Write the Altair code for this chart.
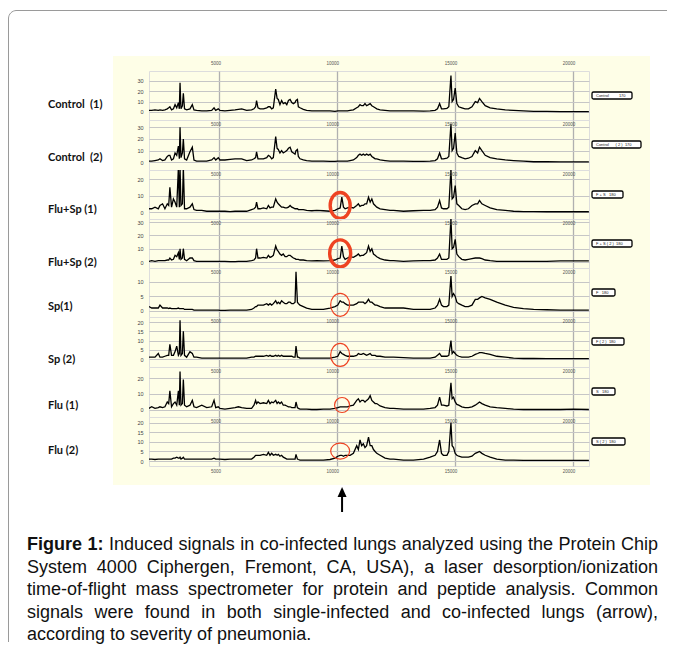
import altair as alt
import pandas as pd

# ---------------- data ----------------
MZ = [2030, 2150, 2290, 2430, 2500, 2610, 2710, 2810, 2870, 2920,
      2990, 3070, 3140, 3210, 3280, 3320, 3350, 3390, 3450, 3490,
      3540, 3630, 3770, 3870, 3940, 4050, 4270, 4480, 4690, 4790,
      4860, 4970, 5040, 5250, 5470, 5680, 5820, 5960, 6170, 6380,
      6480, 6550, 6590, 6650, 6740, 6880, 7020, 7090, 7160, 7230,
      7300, 7400, 7460, 7510, 7580, 7650, 7720, 7800, 7870, 7940,
      8010, 8080, 8150, 8220, 8260, 8320, 8360, 8430, 8570, 8710,
      8930, 9140, 9420, 9700, 9910, 10030, 10130, 10200, 10270, 10340,
      10440, 10550, 10690, 10830, 10900, 10970, 11040, 11110, 11180, 11250,
      11330, 11400, 11470, 11540, 11610, 11680, 11820, 12030, 12240, 12390,
      12810, 13230, 13660, 13940, 14150, 14250, 14340, 14420, 14500, 14650,
      14730, 14820, 14870, 14930, 15000, 15070, 15150, 15280, 15420, 15560,
      15710, 15850, 15950, 16030, 16130, 16270, 16480, 16760, 17120, 17470,
      17890, 18320, 18880, 19450, 20010, 20660]

CONTROL_1 = [1.5, 1.5, 2, 1.5, 2, 1.5, 2, 3, 4, 5,
             2, 3, 7, 4, 9, 3, 28, 3, 6, 18,
             3, 2, 3, 7, 2, 1.5, 1, 1, 1.5, 4,
             1.5, 3, 1.5, 1, 1.5, 2, 2.5, 3, 1.5, 2,
             3, 5, 11, 4, 3, 3, 4, 5, 5, 3,
             4, 22, 13, 12, 7, 11, 8, 9, 7, 11,
             12, 9, 8, 9, 11, 12, 5, 4, 2.5, 1.5,
             1, 1, 1, 1, 0.5, 1, 1, 1, 1, 1,
             1, 1.5, 2, 4, 5, 7, 6, 6, 8, 6,
             7, 8, 6, 5, 4, 3, 2, 1.5, 1, 1,
             1, 1, 0.8, 1, 1.5, 3, 8, 3, 3, 3.5,
             5, 35, 10, 12, 23, 8, 5, 4, 3, 3,
             5, 10, 9, 13, 10, 6, 4, 3, 2, 1.5,
             1, 0.5, 0.5, 0.3, 0.3, 0.3]

CONTROL_2 = [1, 1, 1.5, 2, 3, 1.5, 2, 5, 6, 6,
             2, 3, 8, 6, 14, 3, 30, 4, 8, 20,
             3, 2, 9, 13, 2, 1, 1, 1, 2, 4,
             2, 4, 2, 2, 2.5, 3, 3, 3, 1.5, 2,
             3, 4, 9, 3, 3, 3, 4, 6, 5, 3,
             4, 22, 12, 11, 8, 10, 8, 9, 10, 12,
             13, 9, 8, 7, 10, 11, 5, 3, 2, 1.5,
             1, 1, 1, 0.8, 0.8, 1, 1, 1, 1, 1,
             1, 1.5, 2, 4, 6, 7, 6, 7, 6, 7,
             6, 7, 5, 4, 3, 3, 2, 1.5, 1, 1,
             1, 0.8, 0.8, 1, 1.5, 3, 8, 3, 3, 3.5,
             5, 33, 10, 12, 25, 8, 5, 4, 3, 3.5,
             5, 10, 8, 13, 10, 6, 4, 3, 2, 1.5,
             1, 0.5, 0.5, 0.3, 0.3, 0.3]

FLUSP_1 = [2, 2, 3, 2, 4, 5, 2, 5, 4, 15,
           3, 8, 6, 3, 27, 3, 27, 4, 5, 27,
           2, 2, 3, 5, 1.5, 1, 1, 0.5, 0.5, 0.5,
           0.5, 0.5, 0.5, 0.5, 0.3, 0.5, 0.5, 0.5, 0.5, 1.5,
           2, 3, 6, 2, 2, 2.5, 2, 4, 2.5, 3,
           3, 8, 6, 5, 4, 3, 3, 2.5, 2.5, 3,
           4, 3, 2.5, 2, 2, 2, 1.5, 1.5, 1.5, 1,
           0.8, 1, 0.8, 0.5, 1, 2, 2.5, 9, 3, 2,
           2.5, 3, 2.5, 4, 5, 3.5, 4, 4, 5, 5,
           9, 6, 8, 5, 4, 3, 2, 1.5, 1, 1,
           0.5, 0.8, 1, 1, 1.5, 3, 7, 2.5, 2, 2,
           3, 26, 8, 9, 16, 5, 4, 2, 1.5, 2,
           4, 5, 5, 7, 5, 4, 2.5, 1.5, 1, 0.5,
           0.3, 0.3, 0.2, 0.2, 0.2, 0.2]

FLUSP_2 = [0.5, 1, 0.5, 1, 1, 1, 1, 1.5, 1.5, 3,
           1.5, 2, 5, 4, 7, 2, 10, 2, 3, 10,
           2, 1, 3, 3, 1, 0.5, 0.5, 0.5, 0.5, 0.5,
           0.5, 0.5, 0.5, 0.5, 0.3, 0.3, 0.5, 0.5, 0.5, 1,
           1.5, 3, 10, 3, 3, 3.5, 3, 5, 3.5, 4,
           5, 12, 9, 8, 6, 5, 6, 4, 4, 5,
           5, 4, 3, 2.5, 2, 2, 2, 1.5, 1.5, 1,
           0.8, 1, 0.8, 1, 1.5, 2.5, 3, 12, 4, 2,
           3, 4, 3.5, 5, 6, 4.5, 5, 5, 6, 7,
           12, 8, 10, 6, 5, 4, 2.5, 1.5, 1, 1,
           0.5, 0.8, 1, 1, 1.5, 3, 6, 2, 2, 2,
           3, 33, 10, 11, 17, 6, 4, 2, 1.5, 2,
           2.5, 3, 3, 3, 2.5, 1.5, 1, 0.5, 0.5, 0.5,
           0.5, 0.5, 0.5, 0.8, 0.8, 0.8]

SP_1 = [1.5, 1, 1, 1, 2, 1, 1, 1, 0.8, 1,
        0.8, 0.8, 0.8, 0.8, 1, 0.8, 0.8, 0.8, 0.8, 0.8,
        0.5, 0.5, 0.5, 0.5, 0.3, 0.3, 0.3, 0.3, 0.3, 0.3,
        0.3, 0.3, 0.2, 0.2, 0.3, 0.3, 0.3, 0.3, 0.3, 0.5,
        1, 1.5, 1.5, 2, 2, 2, 2.5, 2, 2.5, 2,
        2.5, 3.5, 2.5, 3, 2.5, 3.5, 3, 2.5, 2.5, 3,
        3, 2.5, 2.5, 3, 13.5, 3, 2.5, 2, 1.5, 1,
        0.5, 0.5, 0.5, 1, 1.5, 2, 3.5, 3, 3, 2.5,
        2, 2, 2, 2.5, 3, 3, 3, 3, 2.5, 3,
        4, 3, 3, 2.5, 2, 2, 1.5, 1, 1, 1,
        1, 0.5, 0.5, 0.5, 1, 2, 4, 2, 1.5, 1.5,
        2, 12, 5, 6, 5, 3, 2.5, 2, 1.5, 1.5,
        2, 4, 4, 4.5, 5, 4.5, 4, 3, 2, 1.2,
        0.8, 0.5, 0.4, 0.3, 0.3, 0.3]

SP_2 = [1, 1, 1, 3, 1, 1, 1.5, 2, 2, 8,
        2, 2, 4, 7, 2, 3, 21, 2, 3, 15,
        2, 1, 4, 3, 1, 1, 0.5, 0.5, 0.5, 0.5,
        0.5, 0.5, 0.5, 0.5, 0.5, 0.5, 0.5, 0.5, 0.5, 1,
        1, 1.5, 1.5, 1.5, 1.5, 1.5, 2, 1.5, 2, 1.5,
        1.5, 2, 1.5, 2, 1.5, 2, 1.5, 1.5, 1.5, 1.5,
        1.5, 1.5, 1, 1, 7, 1, 1, 0.5, 0.5, 0.5,
        0.5, 0.5, 0.5, 0.5, 1, 1.5, 4, 3, 2.5, 2,
        1.5, 1.5, 1.5, 2, 3, 2.5, 2.5, 3, 2.5, 2,
        2.5, 3, 2, 2, 2, 1.5, 1.5, 1, 1, 1,
        0.8, 0.5, 0.5, 0.5, 1, 2, 3, 1.5, 1.5, 1.5,
        2, 10, 3, 4, 3, 2, 1.5, 1, 1, 1,
        1.5, 2.5, 3, 3.5, 3.5, 3, 2.5, 1.5, 1, 0.5,
        0.3, 0.3, 0.2, 0.2, 0.2, 0.2]

FLU_1 = [1, 2, 1, 1.5, 2, 1.5, 2, 5, 4, 12,
         2, 4, 5, 3, 12, 3, 24, 3, 4, 19,
         3, 2, 3, 6, 2, 1.5, 3, 1.5, 2, 6,
         1.5, 2, 1, 0.5, 1, 1.5, 2, 1.5, 1, 1,
         3, 6, 4, 5, 4, 4.5, 4, 6, 4, 5,
         4.5, 6, 4, 5, 4, 5, 3, 3, 2.5, 2,
         2, 1.5, 1.5, 1.5, 5, 1.5, 1, 0.5, 0.5, 0.5,
         0.3, 0.3, 0.5, 0.5, 1, 1.5, 2, 2, 2, 2,
         2, 2.5, 3, 6, 7, 5, 6, 6, 5, 6,
         7, 9, 6, 5, 4, 4, 2.5, 1.5, 1, 1,
         0.5, 0.5, 0.5, 1, 1.5, 3, 8, 3, 3, 2.5,
         3, 17, 7, 8, 5, 3.5, 3, 2, 1.5, 1.5,
         2, 3, 4, 5, 4, 3, 2, 1.5, 1, 0.5,
         0.3, 0.3, 0.3, 0.3, 0.5, 0.3]

FLU_2 = [1, 1, 0.8, 1, 1, 1, 1, 1, 1, 1,
         1, 1.5, 1.5, 2, 1.5, 1.5, 2, 1, 1.5, 2,
         1, 1, 1, 1, 1, 1, 1, 1, 1, 1.5,
         1, 1, 1, 0.8, 1, 1, 1, 1, 1, 1,
         2, 3, 3, 3, 3, 3.5, 3, 4.5, 3, 4,
         3, 3.5, 3, 3.5, 2.5, 3, 2, 1.5, 1, 1,
         1, 1, 1, 1, 3.5, 1, 0.8, 0.5, 0.5, 0.5,
         0.5, 0.5, 0.5, 0.8, 1.5, 2.5, 3, 3, 2.5, 3,
         3, 3, 4, 8, 6, 11, 8, 9, 7, 8,
         12.5, 8, 8, 6, 5, 4, 3, 1.5, 1, 1,
         0.5, 0.5, 1, 2, 3, 5, 11, 4, 3, 3,
         5, 20, 8, 7, 4, 3, 2.5, 2, 2, 2,
         2.5, 4, 4.5, 5, 4, 3, 2, 1, 0.5, 0.5,
         0.3, 0.3, 0.3, 0.3, 0.3, 0.3]

SERIES = [CONTROL_1, CONTROL_2, FLUSP_1, FLUSP_2, SP_1, SP_2, FLU_1, FLU_2]

NB = "\u00a0"
PANEL_LABELS = ["Control" + NB * 2 + "(1)", "Control" + NB * 2 + "(2)", "Flu+Sp (1)", "Flu+Sp (2)",
                "Sp(1)", "Sp (2)", "Flu (1)", "Flu (2)"]
BOX_LABELS = ["Control" + NB * 9 + "170", "Control" + NB * 6 + "( 2 )" + NB * 2 + "170",
              "F + S" + NB * 3 + "180", "F + S ( 2 )" + NB * 2 + "180",
              "F" + NB * 3 + "180", "F ( 2 )" + NB * 2 + "180",
              "S" + NB * 3 + "180", "S ( 2 )" + NB * 2 + "180"]

X_TICKS = [5000, 10000, 15000, 20000]
Y_TICKS = [[0, 10, 20, 30], [0, 10, 20, 30], [0, 10, 20], [0, 10, 20, 30],
           [0, 5, 10], [0, 5, 10, 15, 20], [0, 10, 20], [0, 5, 10, 15, 20]]
Y_MIN = [-7.7, -6.6, -4.2, -4.5, -2.1, -4.3, -4.4, -2.6]
Y_MAX = [39.3, 36.3, 25.5, 32.3, 14.8, 22.7, 26.9, 23.0]

# highlighted signal (red circles): centre m/z and intensity
CIRCLE_MZ = [None, None, 10130, 10130, 10130, 10130, 10210, 10130]
CIRCLE_INT = [None, None, 4.0, 6.5, 2.1, 2.2, 3.1, 5.2]
ARROW_MZ = 10210

CAPTION = [
    "Figure 1: Induced signals in co-infected lungs analyzed using the Protein Chip",
    "System 4000 Ciphergen, Fremont, CA, USA), a laser desorption/ionization",
    "time-of-flight mass spectrometer for protein and peptide analysis. Common",
    "signals were found in both single-infected and co-infected lungs (arrow),",
    "according to severity of pneumonia.",
]

# ---------------- layout / style ----------------
W = 440
HEIGHTS = [49, 50, 49, 49, 49, 50, 50, 49]
X_DOMAIN = [2036, 20665]
LABEL_Y = [34, 38, 40, 44, 39, 43, 39, 34]
BOX_RIGHT = [483, 492, 474, 483, 466, 475, 466, 476]
CIRC_H = [0, 0, 26, 27, 23, 23, 15, 16]
CIRC_W = [0, 0, 20, 21, 19, 19, 15, 19]
CIRC_SW = [0, 0, 3.4, 3.4, 1.2, 1.2, 1.2, 1.2]
RED = "#EE4322"
CREAM = "#FEFEE7"
FONT = "Liberation Sans"

one = pd.DataFrame({"k": [0]})


def panel(i):
    df = pd.DataFrame({"mz": MZ, "intensity": SERIES[i]})
    xs = alt.Scale(domain=X_DOMAIN, nice=False, zero=False)
    ys = alt.Scale(domain=[Y_MIN[i], Y_MAX[i]], nice=False, zero=False)
    xax = alt.Axis(values=X_TICKS, grid=True, labels=False, ticks=False, domain=False,
                   title=None, gridColor="#b0b0b0", gridWidth=1.3)
    yax = alt.Axis(values=Y_TICKS[i], grid=True, ticks=False, domain=False, title=None,
                   labelFontSize=5.5, labelColor="#444", labelPadding=6, labelOverlap=False,
                   labelFlush=False, gridColor="#c6c6c6", gridWidth=1.1, labelFont=FONT)
    X = alt.X("mz:Q", scale=xs, axis=xax)
    Y = alt.Y("intensity:Q", scale=ys, axis=yax)

    layers = []
    layers.append(alt.Chart(df).mark_line(color="black", strokeWidth=1.3, clip=True).encode(x=X, y=Y))

    tdf = pd.DataFrame({"mz": X_TICKS, "lab": [str(v) for v in X_TICKS]})
    ty = -7 if i == 0 else 5
    layers.append(alt.Chart(tdf).mark_text(fontSize=4.5, color="#555", align="right", dx=2,
                                           baseline="middle", font=FONT)
                  .encode(x=X, y=alt.value(ty), text="lab:N"))
    if i == 7:
        layers.append(alt.Chart(tdf).mark_text(fontSize=4.5, color="#555", align="right", dx=2,
                                               baseline="middle", font=FONT)
                      .encode(x=X, y=alt.value(55), text="lab:N"))

    if CIRCLE_MZ[i] is not None:
        r = CIRC_W[i] / CIRC_H[i]
        path = f"M {-r},0 A {r},1 0 1,0 {r},0 A {r},1 0 1,0 {-r},0 Z"
        cdf = pd.DataFrame({"mz": [CIRCLE_MZ[i]], "intensity": [CIRCLE_INT[i]]})
        layers.append(alt.Chart(cdf).mark_point(shape=path, size=CIRC_H[i] ** 2, filled=False,
                                                color=RED, strokeWidth=CIRC_SW[i], opacity=1)
                      .encode(x=X, y=Y))

    ldf = pd.DataFrame({"lab": [PANEL_LABELS[i]]})
    layers.append(alt.Chart(ldf).mark_text(align="left", baseline="middle", font="Lato",
                                           fontWeight="bold", fontSize=11, color="#111")
                  .encode(x=alt.value(-101), y=alt.value(LABEL_Y[i]), text="lab:N"))

    layers.append(alt.Chart(one).mark_rect(fill="white", stroke="black", strokeWidth=1.3,
                                           cornerRadius=1.5)
                  .encode(x=alt.value(443), x2=alt.value(BOX_RIGHT[i]),
                          y=alt.value(21), y2=alt.value(28)))
    bdf = pd.DataFrame({"lab": [BOX_LABELS[i]]})
    layers.append(alt.Chart(bdf).mark_text(align="left", baseline="middle", font=FONT,
                                           fontSize=4, color="#222")
                  .encode(x=alt.value(447), y=alt.value(24.6), text="lab:N"))

    if i == 7:
        adf = pd.DataFrame({"mz": [ARROW_MZ]})
        layers.append(alt.Chart(adf).mark_rule(color="black", strokeWidth=2)
                      .encode(x=X, y=alt.value(78), y2=alt.value(95)))
        layers.append(alt.Chart(adf).mark_point(shape="M 0,-1 L 0.9,1 L -0.9,1 Z", size=100,
                                                filled=True, color="black", opacity=1)
                      .encode(x=X, y=alt.value(75)))

    return alt.layer(*layers).properties(width=W, height=HEIGHTS[i])


# ---------------- caption layout (justified) ----------------
REG_W = {' ': 278, '(': 333, ')': 333, ',': 278, '-': 333, '.': 278, '/': 278, ':': 278,
         'A': 667, 'C': 722, 'F': 611, 'I': 278, 'P': 667, 'S': 667, 'U': 722,
         'a': 556, 'b': 556, 'c': 500, 'd': 556, 'e': 556, 'f': 278, 'g': 556, 'h': 556,
         'i': 222, 'j': 222, 'k': 500, 'l': 222, 'm': 833, 'n': 556, 'o': 556, 'p': 556,
         'q': 556, 'r': 333, 's': 500, 't': 278, 'u': 556, 'v': 500, 'w': 722, 'x': 500,
         'y': 500, 'z': 500}
BOLD_W = {'F': 611, 'i': 278, 'g': 611, 'u': 611, 'r': 389, 'e': 556, '1': 556, ':': 333}
FS = 18
CAP_Y = [475, 497.5, 520, 542.5, 564.5]
CAP_X0, CAP_X1 = -122, 509


def tw(s, bold=False):
    tab = BOLD_W if bold else REG_W
    return sum(tab.get(c, REG_W.get(c, 556)) for c in s) * FS / 1000


rows_l, rows_r, rows_b = [], [], []
for li, line in enumerate(CAPTION):
    words = line.split(" ")
    bold = [li == 0 and k < 2 for k in range(len(words))]
    ws = [tw(wd, b) for wd, b in zip(words, bold)]
    last = li == len(CAPTION) - 1
    gap = tw(" ") if last else (CAP_X1 - CAP_X0 - sum(ws)) / (len(words) - 1)
    x = CAP_X0
    for k, (wd, b, ww) in enumerate(zip(words, bold, ws)):
        if b:
            rows_b.append({"x": x, "y": CAP_Y[li], "t": wd})
        elif k == len(words) - 1 and not last:
            rows_r.append({"x": CAP_X1, "y": CAP_Y[li], "t": wd})
        else:
            rows_l.append({"x": x, "y": CAP_Y[li], "t": wd})
        x += ww + gap


def cap_layer(rows, align, weight):
    return alt.Chart(pd.DataFrame(rows)).mark_text(
        align=align, baseline="middle", font=FONT, fontSize=FS, fontWeight=weight, color="#111"
    ).encode(x=alt.X("x:Q", scale=None), y=alt.Y("y:Q", scale=None), text="t:N")


bg = alt.layer(
    alt.Chart(one).mark_rect(color=CREAM).encode(
        x=alt.value(-36), x2=alt.value(501), y=alt.value(-14), y2=alt.value(415)),
    alt.Chart(one).mark_rule(color="#9a9a9a", strokeWidth=1).encode(
        x=alt.value(-140.5), y=alt.value(-52), y2=alt.value(572)),
    alt.Chart(one).mark_rule(color="#9a9a9a", strokeWidth=1).encode(
        x=alt.value(-133), x2=alt.value(518), y=alt.value(-59.5)),
    alt.Chart(one).mark_point(shape="M -1 1 A 2 2 0 0 1 1 -1", size=64, filled=False,
                              color="#9a9a9a", strokeWidth=1, opacity=1).encode(
        x=alt.value(-136.5), y=alt.value(-55.5)),
    cap_layer(rows_l, "left", "normal"),
    cap_layer(rows_r, "right", "normal"),
    cap_layer(rows_b, "left", "bold"),
).properties(width=W, height=1, view=alt.ViewBackground(stroke="transparent"))

chart = alt.vconcat(bg, *[panel(i) for i in range(8)], spacing=0, bounds="flush").properties(
    padding={"left": -2, "top": 0, "right": 0, "bottom": 0}
).configure_view(stroke="black", strokeWidth=2).configure(background="white")

chart.save("out.html", embed_options={"renderer": "svg", "actions": False})
